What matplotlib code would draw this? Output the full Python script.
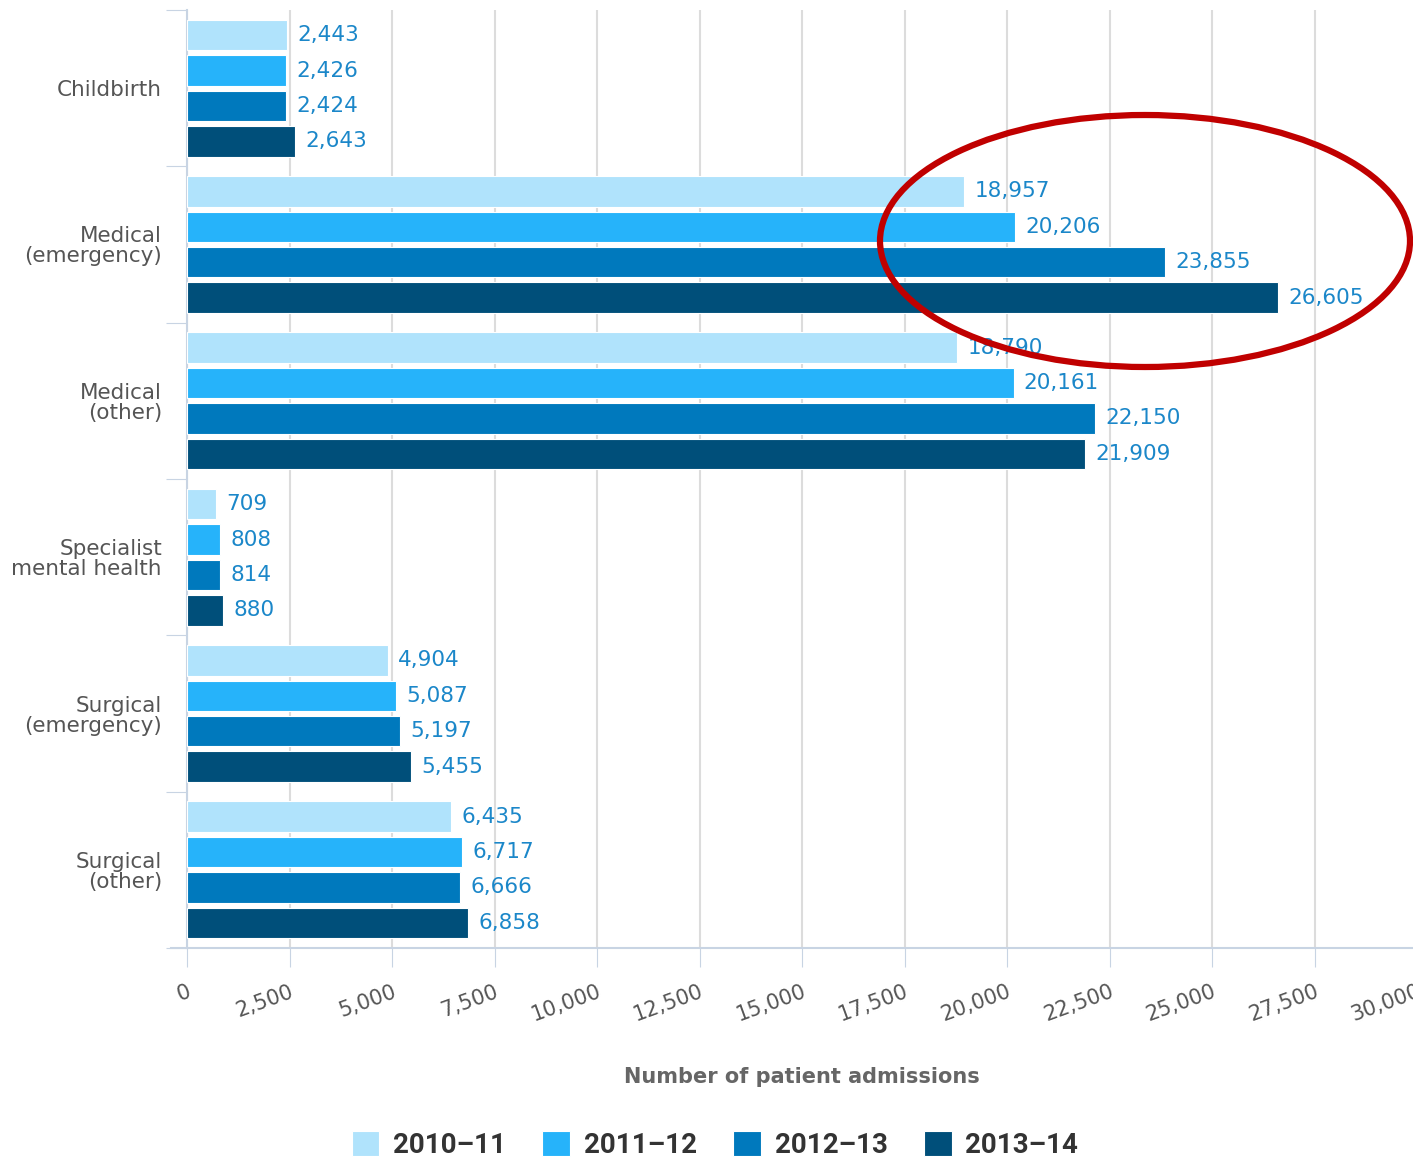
import matplotlib.pyplot as plt
from matplotlib.patches import Ellipse
import numpy as np

categories = ["Childbirth", "Medical\n(emergency)", "Medical\n(other)",
              "Specialist\nmental health", "Surgical\n(emergency)", "Surgical\n(other)"]
years = ["2010\u201311", "2011\u201312", "2012\u201313", "2013\u201314"]
v_2010 = [2443, 18957, 18790, 709, 4904, 6435]
v_2011 = [2426, 20206, 20161, 808, 5087, 6717]
v_2012 = [2424, 23855, 22150, 814, 5197, 6666]
v_2013 = [2643, 26605, 21909, 880, 5455, 6858]
series = [v_2010, v_2011, v_2012, v_2013]
colors = ["#b0e3fc", "#26b3fa", "#0079bd", "#004f7a"]
xticks = np.arange(0, 30001, 2500)

fig = plt.figure(figsize=(14.13, 11.59), dpi=100)
ax = fig.add_axes([187 / 1413, 211 / 1159, 1230 / 1413, 938 / 1159])

y = np.arange(len(categories))
offsets = [-0.34, -0.113, 0.113, 0.34]
for vals, off, col, lab in zip(series, offsets, colors, years):
    bars = ax.barh(y + off, vals, height=0.195, color=col, edgecolor="white",
                   linewidth=0.8, label=lab, zorder=3)
    for b, v in zip(bars, vals):
        ax.text(v + 250, b.get_y() + b.get_height() / 2, f"{v:,}", va="center",
                ha="left", fontsize=15.5, color="#1b87c9", zorder=4)

ax.set_xlim(0, 30000)
ax.set_ylim(len(categories) - 0.5, -0.5)
ax.set_xticks(xticks)
ax.set_xticklabels([f"{t:,}" for t in xticks], rotation=20, ha="right",
                   rotation_mode="anchor", fontsize=15, color="#555555")
ax.tick_params(axis="x", length=14, color="#c8d4e3", pad=10)
ax.set_yticks(np.arange(-0.5, len(categories)), minor=False)
ax.set_yticklabels([])
ax.set_yticks(y, minor=True)
ax.set_yticklabels(categories, minor=True, fontsize=15.5, color="#555555",
                   ha="right", linespacing=1.0)
ax.tick_params(axis="y", which="major", length=15, color="#c8d4e3")
ax.tick_params(axis="y", which="minor", length=0, pad=18)
ax.grid(axis="x", color="#dcdcdc", linewidth=1.5, zorder=0)
ax.set_axisbelow(True)
for s in ["top", "right"]:
    ax.spines[s].set_visible(False)
ax.spines["left"].set_color("#c8d4e3")
ax.spines["left"].set_linewidth(1.5)
ax.spines["bottom"].set_color("#c8d4e3")
ax.spines["bottom"].set_linewidth(1.5)
ax.spines["bottom"].set_bounds(-400, 30000)

ax.set_xlabel("Number of patient admissions", fontsize=15, fontweight="bold",
              color="#666666", labelpad=30)

leg = fig.legend(loc="center", bbox_to_anchor=(715 / 1413, 1 - 1145 / 1159), ncol=4,
                 frameon=False, handlelength=1.0, handleheight=1.0,
                 columnspacing=1.3, handletextpad=0.5,
                 prop={"family": ["Roboto", "DejaVu Sans"],
                       "size": 20, "weight": "bold"})
for t in leg.get_texts():
    t.set_color("#333333")

ell = Ellipse((1145 / 1413, 1 - 241 / 1159), 530 / 1413, 252 / 1159,
              transform=fig.transFigure, fill=False, edgecolor="#c00000",
              linewidth=4.5, zorder=10)
fig.add_artist(ell)

fig.savefig("out.png", dpi=100)
